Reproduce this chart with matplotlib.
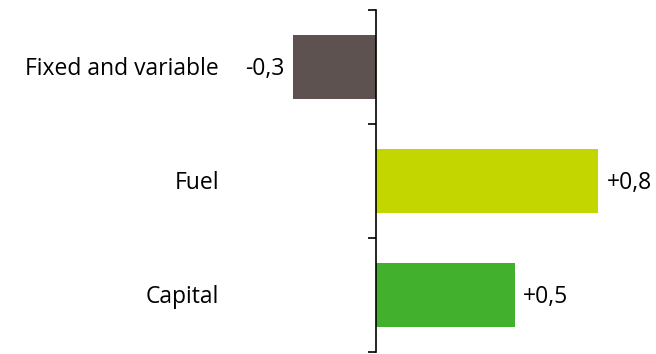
import matplotlib
matplotlib.use("Agg")
import matplotlib.pyplot as plt
import matplotlib.transforms as mtransforms

plt.rcParams['font.family'] = ['Open Sans', 'DejaVu Sans']

categories = ["Fixed and variable", "Fuel", "Capital"]
values = [-0.3, 0.8, 0.5]
value_labels = ["-0,3", "+0,8", "+0,5"]
colors = ["#5D5250", "#C4D600", "#42AF2D"]

W, H, DPI = 656, 354, 100
fig = plt.figure(figsize=(W / DPI, H / DPI), dpi=DPI)

# axes placed in pixel terms: x=0 sits at 376 px, scale ~278 px per unit
x0_px, scale = 376, 278.0
xmin, xmax = -0.3, 0.8
left_px = x0_px + xmin * scale
right_px = x0_px + xmax * scale
top_px, bottom_px = 10, 352
ax = fig.add_axes([left_px / W, 1 - bottom_px / H,
                   (right_px - left_px) / W, (bottom_px - top_px) / H])

n = len(categories)
ypos = list(range(n))
ax.barh(ypos, values, height=0.56, color=colors, zorder=2)
ax.set_xlim(xmin, xmax)
ax.set_ylim(n - 0.5, -0.5)

for s in ["top", "right", "bottom"]:
    ax.spines[s].set_visible(False)
ax.spines["left"].set_position(("data", 0))
ax.spines["left"].set_linewidth(1.2)
ax.spines["left"].set_color("black")
ax.set_xticks([])
ax.set_yticks([i - 0.5 for i in range(n + 1)])
ax.set_yticklabels([])
ax.tick_params(axis="y", direction="out", length=6, width=1.2, color="black")

FS = 16.5

# category labels, right-aligned in a column left of the plot
trans = mtransforms.blended_transform_factory(fig.transFigure, ax.transData)
for y, name in zip(ypos, categories):
    ax.text(219 / W, y + 0.02, name, transform=trans, ha="right", va="center",
            fontsize=FS, color="black")

# value labels at bar ends
for y, v, lab in zip(ypos, values, value_labels):
    if v < 0:
        ax.annotate(lab, (v, y + 0.02), xytext=(-6, 0), textcoords="offset points",
                    ha="right", va="center", fontsize=FS, color="black")
    else:
        ax.annotate(lab, (v, y + 0.02), xytext=(6, 0), textcoords="offset points",
                    ha="left", va="center", fontsize=FS, color="black",
                    annotation_clip=False)

fig.savefig("out.png", dpi=DPI)
